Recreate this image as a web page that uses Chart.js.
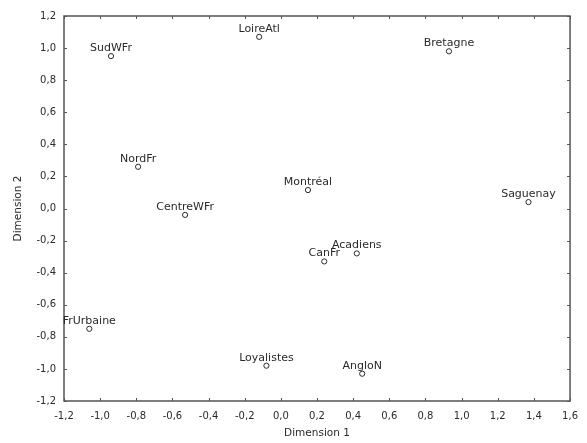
<!DOCTYPE html>
<html>
<head>
<meta charset="utf-8">
<script src="https://cdn.jsdelivr.net/npm/chart.js@4/dist/chart.umd.min.js"></script>
<style>
  html, body { margin: 0; padding: 0; background: #fff; }
  #wrap { width: 587px; height: 443px; }
</style>
</head>
<body>
<div id="wrap"><canvas id="c" width="587" height="443"></canvas></div>
<script>
// Group names and their coordinates on the two dimensions
const groups = ['SudWFr', 'LoireAtl', 'Bretagne', 'NordFr', 'Montréal', 'Saguenay',
                'CentreWFr', 'CanFr', 'Acadiens', 'FrUrbaine', 'Loyalistes', 'AngloN'];
const dim1 = [-0.94, -0.12, 0.93, -0.79, 0.15, 1.37, -0.53, 0.24, 0.42, -1.06, -0.08, 0.45];
const dim2 = [0.95, 1.07, 0.98, 0.26, 0.115, 0.04, -0.04, -0.33, -0.28, -0.75, -0.98, -1.03];

// Axis ranges and tick step
const xRange = [-1.2, 1.6];
const yRange = [-1.2, 1.2];
const tickStep = 0.2;

const INK = '#2a2a2a';
const FRAME = '#555';

// Decimal comma formatting for tick labels
function fmt(v) {
  const r = Math.round(v * 10) / 10;
  const s = (Math.abs(r) < 1e-9 ? 0 : r).toFixed(1);
  return s.replace('.', ',');
}

// Draws the box frame, inward tick marks and the name of each point
const framePlugin = {
  id: 'frameAndLabels',
  afterDatasetsDraw(chart) {
    const { ctx, chartArea: a, scales } = chart;
    ctx.save();
    ctx.strokeStyle = FRAME;
    ctx.lineWidth = 1.5;
    ctx.strokeRect(a.left, a.top, a.right - a.left, a.bottom - a.top);

    ctx.lineWidth = 1;
    const len = 3;
    scales.x.ticks.forEach(t => {
      const px = Math.round(scales.x.getPixelForValue(t.value)) + 0.5;
      ctx.beginPath();
      ctx.moveTo(px, a.bottom); ctx.lineTo(px, a.bottom - len);
      ctx.moveTo(px, a.top); ctx.lineTo(px, a.top + len);
      ctx.stroke();
    });
    scales.y.ticks.forEach(t => {
      const py = Math.round(scales.y.getPixelForValue(t.value)) + 0.5;
      ctx.beginPath();
      ctx.moveTo(a.left, py); ctx.lineTo(a.left + len, py);
      ctx.moveTo(a.right, py); ctx.lineTo(a.right - len, py);
      ctx.stroke();
    });

    // Point names, centred just above each marker
    ctx.fillStyle = INK;
    ctx.font = '11px "DejaVu Sans"';
    ctx.textAlign = 'center';
    ctx.textBaseline = 'alphabetic';
    const meta = chart.getDatasetMeta(0);
    meta.data.forEach((pt, i) => {
      ctx.fillText(groups[i], pt.x, pt.y - 5);
    });
    ctx.restore();
  }
};

const points = dim1.map((x, i) => ({ x: x, y: dim2[i] }));

new Chart(document.getElementById('c'), {
  type: 'scatter',
  data: {
    datasets: [{
      data: points,
      pointStyle: 'circle',
      pointRadius: 2.6,
      pointHoverRadius: 2.6,
      borderWidth: 1,
      borderColor: INK,
      backgroundColor: '#fff'
    }]
  },
  options: {
    responsive: false,
    animation: false,
    events: [],
    layout: { padding: { top: 16, right: 8, left: 0, bottom: 0 } },
    plugins: { legend: { display: false }, tooltip: { enabled: false } },
    scales: {
      x: {
        type: 'linear',
        min: xRange[0], max: xRange[1],
        afterFit(s) { s.height = 42; },
        grid: { display: false, drawTicks: false },
        border: { display: false },
        ticks: {
          stepSize: tickStep,
          padding: 9,
          color: INK,
          font: { family: 'DejaVu Sans', size: 10 },
          callback: v => fmt(v),
          maxRotation: 0,
          autoSkip: false
        },
        title: {
          display: true,
          text: 'Dimension 1',
          color: INK,
          font: { family: 'DejaVu Sans', size: 10.5 },
          padding: { top: 0, bottom: 3 }
        }
      },
      y: {
        type: 'linear',
        min: yRange[0], max: yRange[1],
        afterFit(s) { s.width = 64; },
        grid: { display: false, drawTicks: false },
        border: { display: false },
        ticks: {
          stepSize: tickStep,
          padding: 8,
          color: INK,
          font: { family: 'DejaVu Sans', size: 10 },
          callback: v => fmt(v),
          autoSkip: false
        },
        title: {
          display: true,
          text: 'Dimension 2',
          color: INK,
          font: { family: 'DejaVu Sans', size: 10.5 },
          padding: { top: 12, bottom: 0 }
        }
      }
    }
  },
  plugins: [framePlugin]
});
</script>
</body>
</html>
